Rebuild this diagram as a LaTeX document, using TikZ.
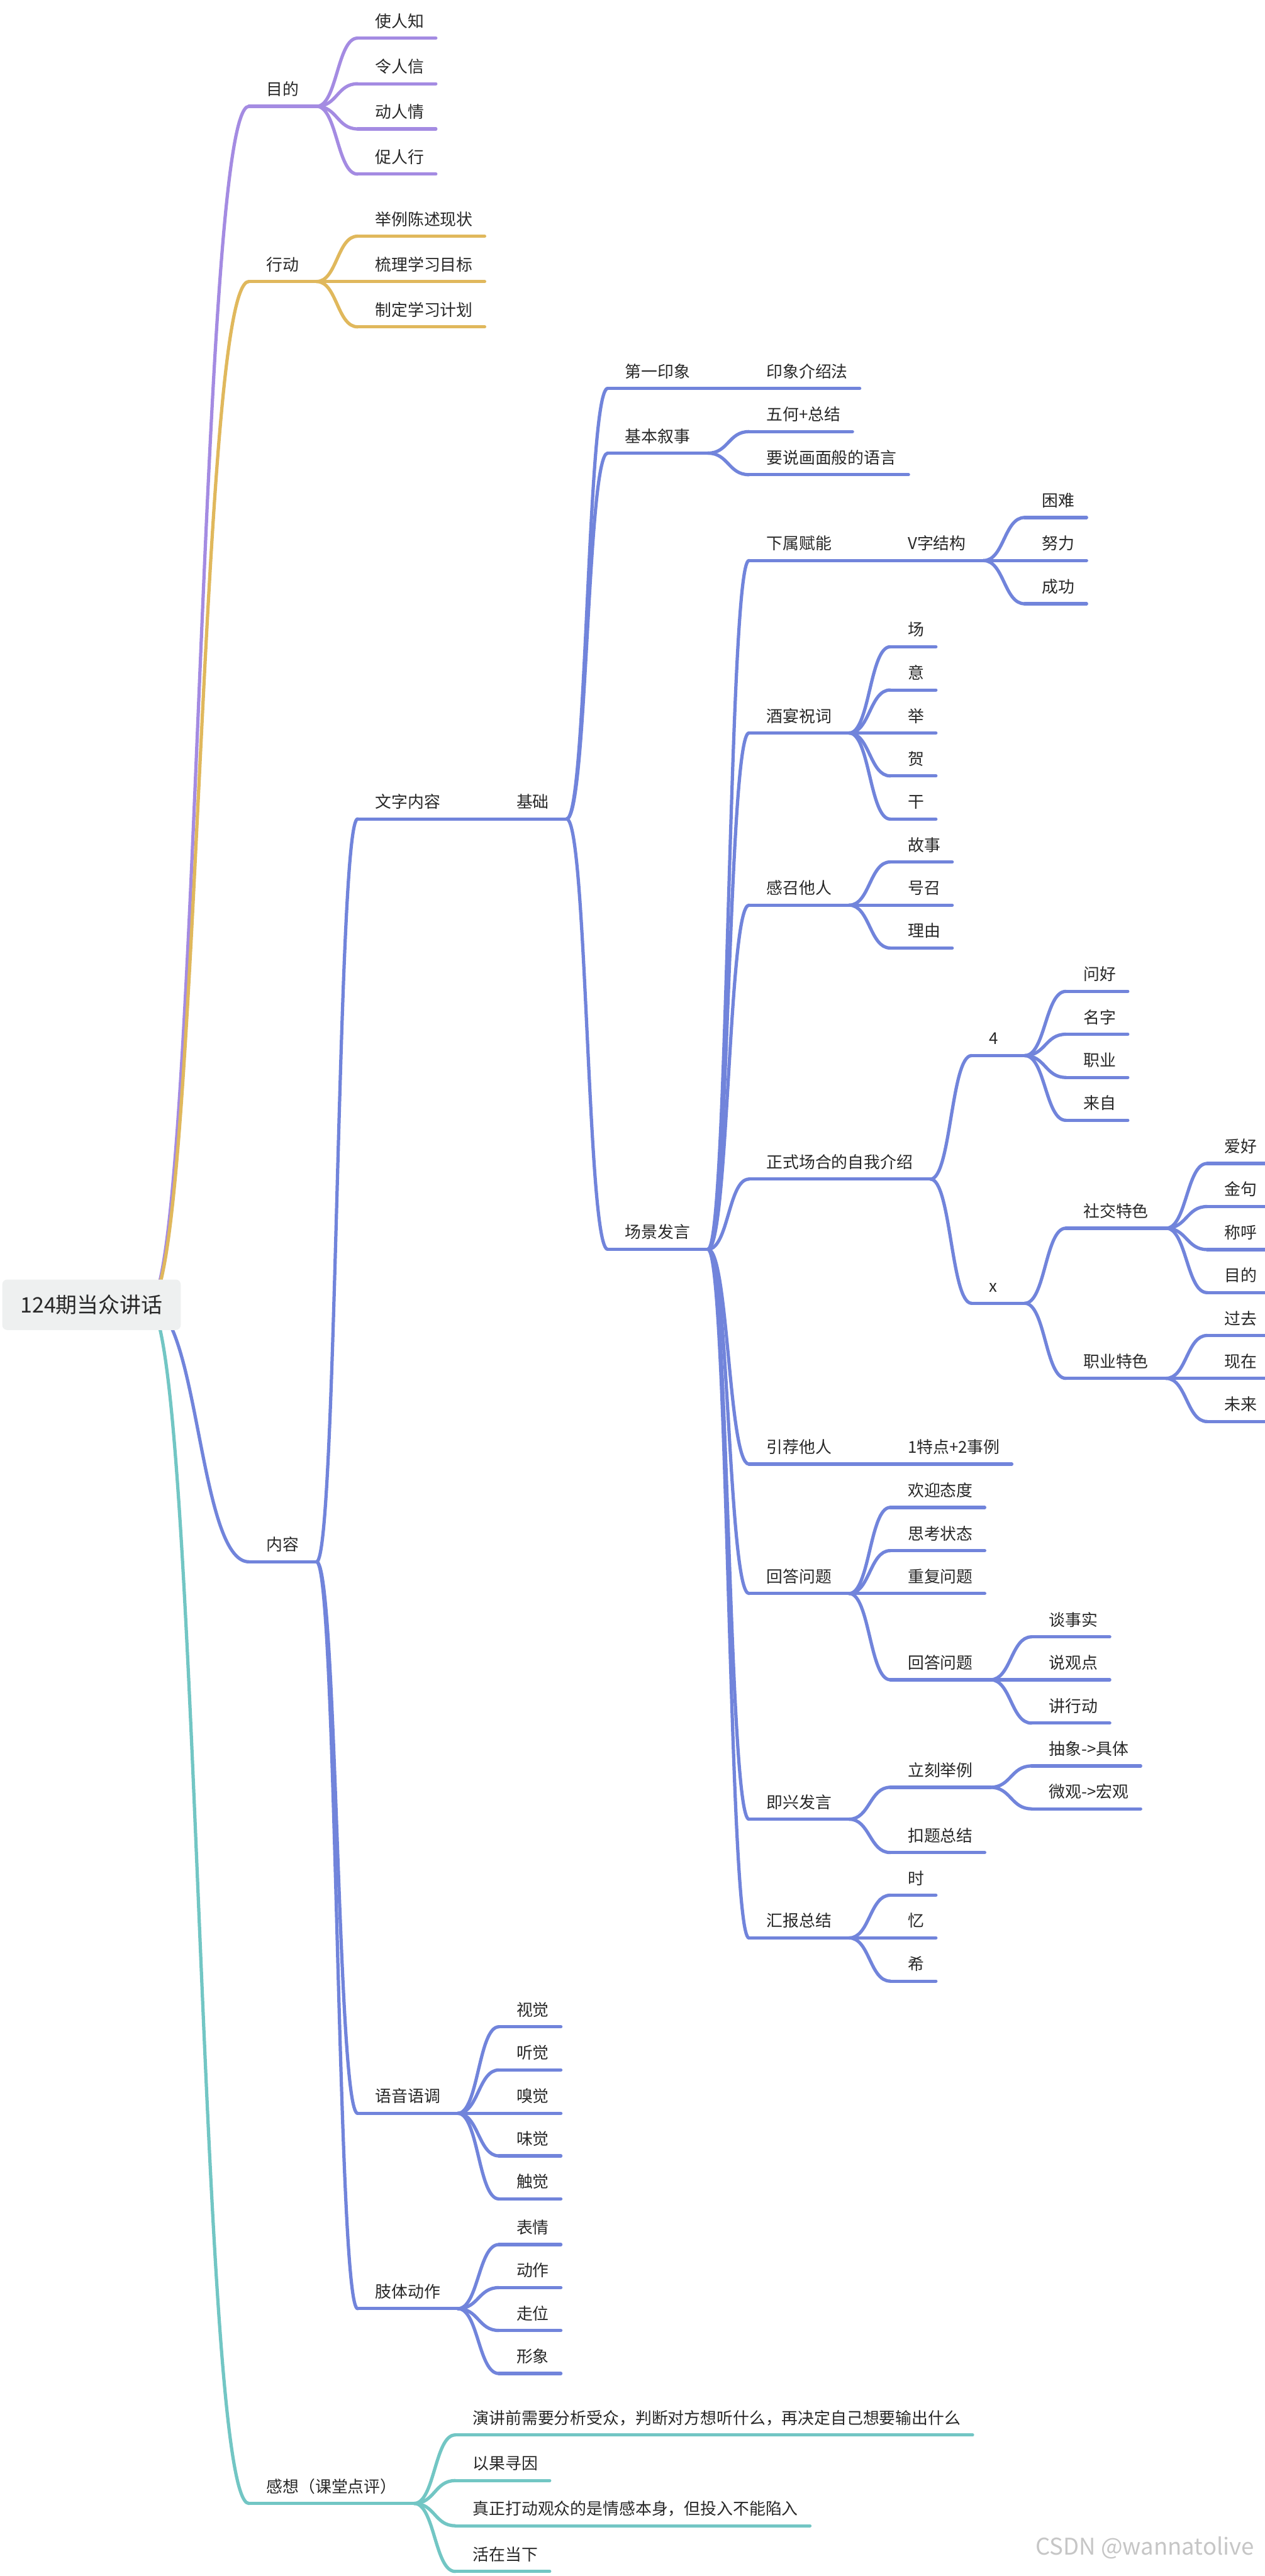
\documentclass[tikz,border=0pt]{standalone}
\usepackage{fontspec}
\setmainfont{Noto Sans CJK SC}
\usetikzlibrary{backgrounds}
\definecolor{MapPurple}{RGB}{164,139,226}
\definecolor{MapGold}{RGB}{224,184,92}
\definecolor{MapBlue}{RGB}{113,132,219}
\definecolor{MapTeal}{RGB}{114,198,196}
\definecolor{MapText}{RGB}{40,40,40}
\definecolor{MapRoot}{RGB}{238,240,240}
\newcommand{\topicfont}{\fontsize{9.9}{12}\selectfont}
\newcommand{\rootfont}{\fontsize{13}{15}\selectfont}

\begin{document}
\begin{tikzpicture}[x=1pt, y=-1pt,
    wire/.style={draw=#1, line width=2pt, line cap=round},
    branch/.style={to path={.. controls +(12.5,0) and +(-12.5,0) .. (\tikztotarget)}},
    topic/.style={anchor=south west, inner xsep=10.5pt, inner ysep=5.3pt, text height=8.7pt, text depth=1.2pt, font=\topicfont, text=MapText},
    tp/.style={topic, append after command={(\tikzlastnode.south west) edge[wire=#1] (\tikzlastnode.south east)}},
    lf/.style={topic, append after command={(\tikzlastnode.south west) edge[wire=#1] ([xshift=-3.5pt]\tikzlastnode.south east)}},
    nextcol/.style={xshift=25pt},
    rootbox/.style={fill=MapRoot, rounded corners=3pt, minimum width=108.6pt, minimum height=30.7pt, inner sep=0pt, text height=11.44pt, text depth=1.56pt, font=\rootfont, text=MapText}
  ]
    \useasboundingbox (0,0) rectangle (770,1568.4);

    % Root and main topics
    \node[rootbox] (root) at (55.7,794.4) {124期当众讲话};
    \node[tp=MapPurple] (md) at (151.5,64.75) {目的};
    \node[tp=MapGold] (xd) at (151.5,171.4) {行动};
    \node[tp=MapBlue] (nr) at (151.5,950.9) {内容};
    \node[tp=MapTeal] (gx) at (151.5,1524.2) {感想（课堂点评）};

    \begin{scope}[on background layer]
      \fill[white] (0,0) rectangle (770,1568.4);
      \draw[wire=MapPurple] ([xshift=-20pt]root.east) .. controls +(30.75,0) and +(-30.75,0) .. (md.south west);
      \draw[wire=MapGold] ([xshift=-20pt]root.east) .. controls +(30.75,0) and +(-30.75,0) .. (xd.south west);
      \draw[wire=MapBlue] ([xshift=-20pt]root.east) .. controls +(30.75,0) and +(-30.75,0) .. (nr.south west);
      \draw[wire=MapTeal] ([xshift=-20pt]root.east) .. controls +(30.75,0) and +(-30.75,0) .. (gx.south west);
    \end{scope}

    % Purpose
    \foreach \t/\y [count=\i] in {使人知/23.2, 令人信/51.0, 动人情/78.5, 促人行/106.0}{
      \node[lf=MapPurple, nextcol] (md\i) at (md.south east |- 0,\y) {\t};
      \draw[wire=MapPurple] (md.south east) to[branch] (md\i.south west);
    }

    % Action
    \foreach \t/\y [count=\i] in {举例陈述现状/143.8, 梳理学习目标/171.4, 制定学习计划/199.0}{
      \node[lf=MapGold, nextcol] (xd\i) at (xd.south east |- 0,\y) {\t};
      \draw[wire=MapGold] (xd.south east) to[branch] (xd\i.south west);
    }

    % Content
    \foreach \n/\t/\y in {wz/文字内容/498.6, yy/语音语调/1286.7, zt/肢体动作/1405.6}{
      \node[tp=MapBlue, nextcol] (\n) at (nr.south east |- 0,\y) {\t};
      \draw[wire=MapBlue] (nr.south east) to[branch] (\n.south west);
    }
    \node[tp=MapBlue, nextcol] (jc) at (wz.south east) {基础};
    \draw[wire=MapBlue] (wz.south east) to[branch] (jc.south west);

    \foreach \n/\t/\y in {dy/第一印象/236.5, js/基本叙事/275.9, cj/场景发言/760.6}{
      \node[tp=MapBlue, nextcol] (\n) at (jc.south east |- 0,\y) {\t};
      \draw[wire=MapBlue] (jc.south east) to[branch] (\n.south west);
    }
    \node[lf=MapBlue, nextcol] (dy1) at (dy.south east) {印象介绍法};
    \draw[wire=MapBlue] (dy.south east) to[branch] (dy1.south west);
    \foreach \t/\y [count=\i] in {五何+总结/262.8, 要说画面般的语言/289.0}{
      \node[lf=MapBlue, nextcol] (js\i) at (js.south east |- 0,\y) {\t};
      \draw[wire=MapBlue] (js.south east) to[branch] (js\i.south west);
    }

    % Scenes
    \foreach \n/\t/\y in {xs/下属赋能/341.3, jy/酒宴祝词/446.3, gz/感召他人/551.1, zs/正式场合的自我介绍/717.9,
        yj/引荐他人/891.4, hd/回答问题/970.2, jx/即兴发言/1107.6, hb/汇报总结/1179.9}{
      \node[tp=MapBlue, nextcol] (\n) at (cj.south east |- 0,\y) {\t};
      \draw[wire=MapBlue] (cj.south east) to[branch] (\n.south west);
    }

    \node[tp=MapBlue, nextcol] (vz) at (xs.south east) {V字结构};
    \draw[wire=MapBlue] (xs.south east) to[branch] (vz.south west);
    \foreach \t/\y [count=\i] in {困难/315.1, 努力/341.3, 成功/367.6}{
      \node[lf=MapBlue, nextcol] (vz\i) at (vz.south east |- 0,\y) {\t};
      \draw[wire=MapBlue] (vz.south east) to[branch] (vz\i.south west);
    }

    \foreach \t/\y [count=\i] in {场/393.8, 意/420.1, 举/446.3, 贺/472.4, 干/498.7}{
      \node[lf=MapBlue, nextcol] (jy\i) at (jy.south east |- 0,\y) {\t};
      \draw[wire=MapBlue] (jy.south east) to[branch] (jy\i.south west);
    }

    \foreach \t/\y [count=\i] in {故事/524.8, 号召/551.1, 理由/577.2}{
      \node[lf=MapBlue, nextcol] (gz\i) at (gz.south east |- 0,\y) {\t};
      \draw[wire=MapBlue] (gz.south east) to[branch] (gz\i.south west);
    }

    % Formal self introduction
    \node[tp=MapBlue, nextcol] (zs4) at (zs.south east |- 0,642.7) {\makebox[11pt][l]{4}};
    \node[tp=MapBlue, nextcol] (zsx) at (zs.south east |- 0,793.5) {\makebox[11pt][l]{x}};
    \foreach \c in {zs4,zsx} \draw[wire=MapBlue] (zs.south east) to[branch] (\c.south west);
    \foreach \t/\y [count=\i] in {问好/603.6, 名字/629.7, 职业/656.0, 来自/682.1}{
      \node[lf=MapBlue, nextcol] (zs4\i) at (zs4.south east |- 0,\y) {\t};
      \draw[wire=MapBlue] (zs4.south east) to[branch] (zs4\i.south west);
    }
    \node[tp=MapBlue, nextcol] (sj) at (zsx.south east |- 0,747.8) {社交特色};
    \node[tp=MapBlue, nextcol] (zy) at (zsx.south east |- 0,839.2) {职业特色};
    \foreach \c in {sj,zy} \draw[wire=MapBlue] (zsx.south east) to[branch] (\c.south west);
    \foreach \t/\y [count=\i] in {爱好/708.4, 金句/734.6, 称呼/760.8, 目的/787.0}{
      \node[lf=MapBlue, nextcol] (sj\i) at (sj.south east |- 0,\y) {\t};
      \draw[wire=MapBlue] (sj.south east) to[branch] (sj\i.south west);
    }
    \foreach \t/\y [count=\i] in {过去/813.1, 现在/839.2, 未来/865.5}{
      \node[lf=MapBlue, nextcol] (zy\i) at (zy.south east |- 0,\y) {\t};
      \draw[wire=MapBlue] (zy.south east) to[branch] (zy\i.south west);
    }

    % Recommending, answering, impromptu, reporting
    \node[lf=MapBlue, nextcol] (yj1) at (yj.south east) {1特点+2事例};
    \draw[wire=MapBlue] (yj.south east) to[branch] (yj1.south west);

    \foreach \t/\y [count=\i] in {欢迎态度/917.8, 思考状态/944.1, 重复问题/970.2}{
      \node[lf=MapBlue, nextcol] (hd\i) at (hd.south east |- 0,\y) {\t};
      \draw[wire=MapBlue] (hd.south east) to[branch] (hd\i.south west);
    }
    \node[tp=MapBlue, nextcol] (hd4) at (hd.south east |- 0,1022.7) {回答问题};
    \draw[wire=MapBlue] (hd.south east) to[branch] (hd4.south west);
    \foreach \t/\y [count=\i] in {谈事实/996.6, 说观点/1022.7, 讲行动/1049.1}{
      \node[lf=MapBlue, nextcol] (hd4\i) at (hd4.south east |- 0,\y) {\t};
      \draw[wire=MapBlue] (hd4.south east) to[branch] (hd4\i.south west);
    }

    \node[tp=MapBlue, nextcol] (jx1) at (jx.south east |- 0,1088.2) {立刻举例};
    \node[lf=MapBlue, nextcol] (jx2) at (jx.south east |- 0,1127.9) {扣题总结};
    \foreach \c in {jx1,jx2} \draw[wire=MapBlue] (jx.south east) to[branch] (\c.south west);
    \foreach \t/\y [count=\i] in {抽象->具体/1075.2, 微观->宏观/1101.3}{
      \node[lf=MapBlue, nextcol] (jx1\i) at (jx1.south east |- 0,\y) {\t};
      \draw[wire=MapBlue] (jx1.south east) to[branch] (jx1\i.south west);
    }

    \foreach \t/\y [count=\i] in {时/1153.9, 忆/1179.9, 希/1206.2}{
      \node[lf=MapBlue, nextcol] (hb\i) at (hb.south east |- 0,\y) {\t};
      \draw[wire=MapBlue] (hb.south east) to[branch] (hb\i.south west);
    }

    % Voice and body
    \foreach \t/\y [count=\i] in {视觉/1234.0, 听觉/1260.3, 嗅觉/1286.7, 味觉/1312.6, 触觉/1338.8}{
      \node[lf=MapBlue, nextcol] (yy\i) at (yy.south east |- 0,\y) {\t};
      \draw[wire=MapBlue] (yy.south east) to[branch] (yy\i.south west);
    }
    \foreach \t/\y [count=\i] in {表情/1366.6, 动作/1392.8, 走位/1418.9, 形象/1445.1}{
      \node[lf=MapBlue, nextcol] (zt\i) at (zt.south east |- 0,\y) {\t};
      \draw[wire=MapBlue] (zt.south east) to[branch] (zt\i.south west);
    }

    % Reflections
    \foreach \t/\y [count=\i] in {演讲前需要分析受众，判断对方想听什么，再决定自己想要输出什么/1482.5,
        以果寻因/1510.3, 真正打动观众的是情感本身，但投入不能陷入/1537.8, 活在当下/1565.6}{
      \node[lf=MapTeal, nextcol] (gx\i) at (gx.south east |- 0,\y) {\t};
      \draw[wire=MapTeal] (gx.south east) to[branch] (gx\i.south west);
    }

    \node[anchor=east, font=\fontsize{14}{16}\selectfont, text=gray!45] (mark) at (767,1551) {CSDN @wannatolive};
\end{tikzpicture}
\end{document}
